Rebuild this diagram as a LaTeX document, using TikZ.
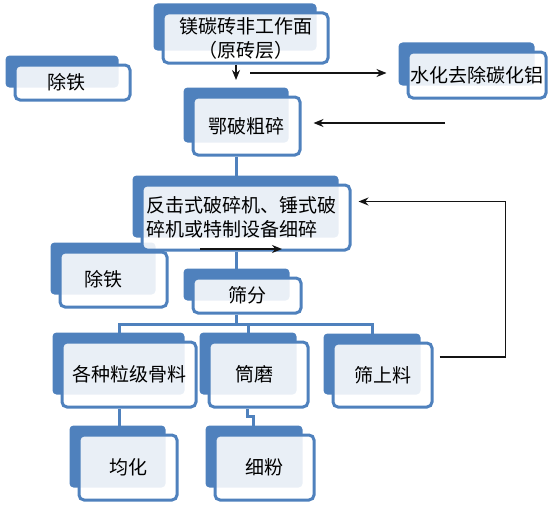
\documentclass[tikz,border=0pt]{standalone}
\usepackage{fontspec}
\newfontfamily\cjk{Noto Sans CJK SC}
\usetikzlibrary{arrows.meta,backgrounds}
\definecolor{steel}{RGB}{79,129,189}
\definecolor{ink}{RGB}{20,20,20}
\tikzset{
  >={Stealth[length=10pt,width=8pt]},
  card/.style 2 args={draw=steel,line width=3pt,fill=white,fill opacity=0.88,text opacity=1,
    rounded corners=5pt,minimum width=#1,minimum height=#2,inner sep=2pt,align=center,
    font=\cjk\fontsize{19}{24}\selectfont},
  nudge/.style={execute at begin node={\hspace*{-#1}}},
  back/.style={fill=steel,rounded corners=4pt},
  link/.style={draw=steel,line width=3pt},
  flow/.style={->,draw=ink,line width=1.3pt},
}
\begin{document}
\begin{tikzpicture}[x=1pt,y=-1pt]
  \useasboundingbox (0,0) rectangle (553,511);
  \node[card={165pt}{50pt}] (top) at (245.5,38) {镁碳砖非工作面\\（原砖层）};
  \node[card={115pt}{35pt},nudge=12pt] (fe1) at (72.5,82.5) {除铁};
  \node[card={107pt}{58pt}] (jaw) at (246.5,126) {鄂破粗碎};
  \node[card={138pt}{46pt}] (hyd) at (477,75) {水化去除碳化铝};
  \node[card={208pt}{65pt},align=left,text width=200pt] (fine) at (246,217.5) {反击式破碎机、锤式破\\碎机或特制设备细碎};
  \node[card={107pt}{55pt},nudge=20pt] (fe2) at (113.5,279.5) {除铁};
  \node[card={108pt}{35pt}] (sieve) at (247,295.5) {筛分};
  \node[card={134pt}{65pt}] (agg) at (129,374.5) {各种粒级骨料};
  \node[card={99pt}{65pt},nudge=8pt] (mill) at (258.5,374.5) {筒磨};
  \node[card={99pt}{64pt}] (over) at (382.5,375) {筛上料};
  \node[card={98pt}{65pt}] (hom) at (128,467.5) {均化};
  \node[card={99pt}{65pt}] (powder) at (264.5,467.5) {细粉};
  % blue back plates
  \begin{scope}[on background layer]
    \foreach \n in {top,fe1,jaw,hyd,fine,fe2,sieve,agg,mill,over,hom,powder}
      \fill[back] ([shift={(-8,-8)}]\n.north west) rectangle ([shift={(-13,-14)}]\n.south east);
  \end{scope}
  \coordinate (drop) at (236,80);
  \coordinate (split) at (250,73);
  \coordinate (feed) at (445,123);
  \coordinate (mark1) at (200,249);
  \coordinate (mark2) at (282,249);
  \coordinate (bus) at (0,324);
  \draw[flow] (top.south -| drop) -- (drop);
  \draw[flow] (split) -- ([xshift=-20pt,yshift=2pt]hyd.west);
  \draw[flow] (feed) -- ([xshift=12pt]jaw.east |- feed);
  \draw[link] (jaw.south -| drop) -- (fine.north -| drop);
  \draw[flow] (mark1) -- (mark2);
  \draw[link] (fine.south -| drop) -- (sieve.north -| drop);
  \draw[link] (sieve.south -| drop) -- (bus -| drop);
  \draw[link] ([xshift=-10pt]agg.north) |- ([xshift=-10pt]over.north |- bus) -- ([xshift=-10pt]over.north);
  \draw[link] ([xshift=-10pt]mill.north) -- ([xshift=-10pt]mill.north |- bus);
  \draw[link] ([xshift=-10pt]agg.south) -- ([xshift=-10pt]hom.north -| agg.south);
  \draw[link] ([xshift=-11pt]mill.south) -- ++(0,8) -| ([xshift=-11pt]powder.north);
  \draw[flow] ([xshift=6pt,yshift=18pt]over.east) -- ++(66,0) |- ([xshift=7pt,yshift=16pt]fine.east);
\end{tikzpicture}
\end{document}
